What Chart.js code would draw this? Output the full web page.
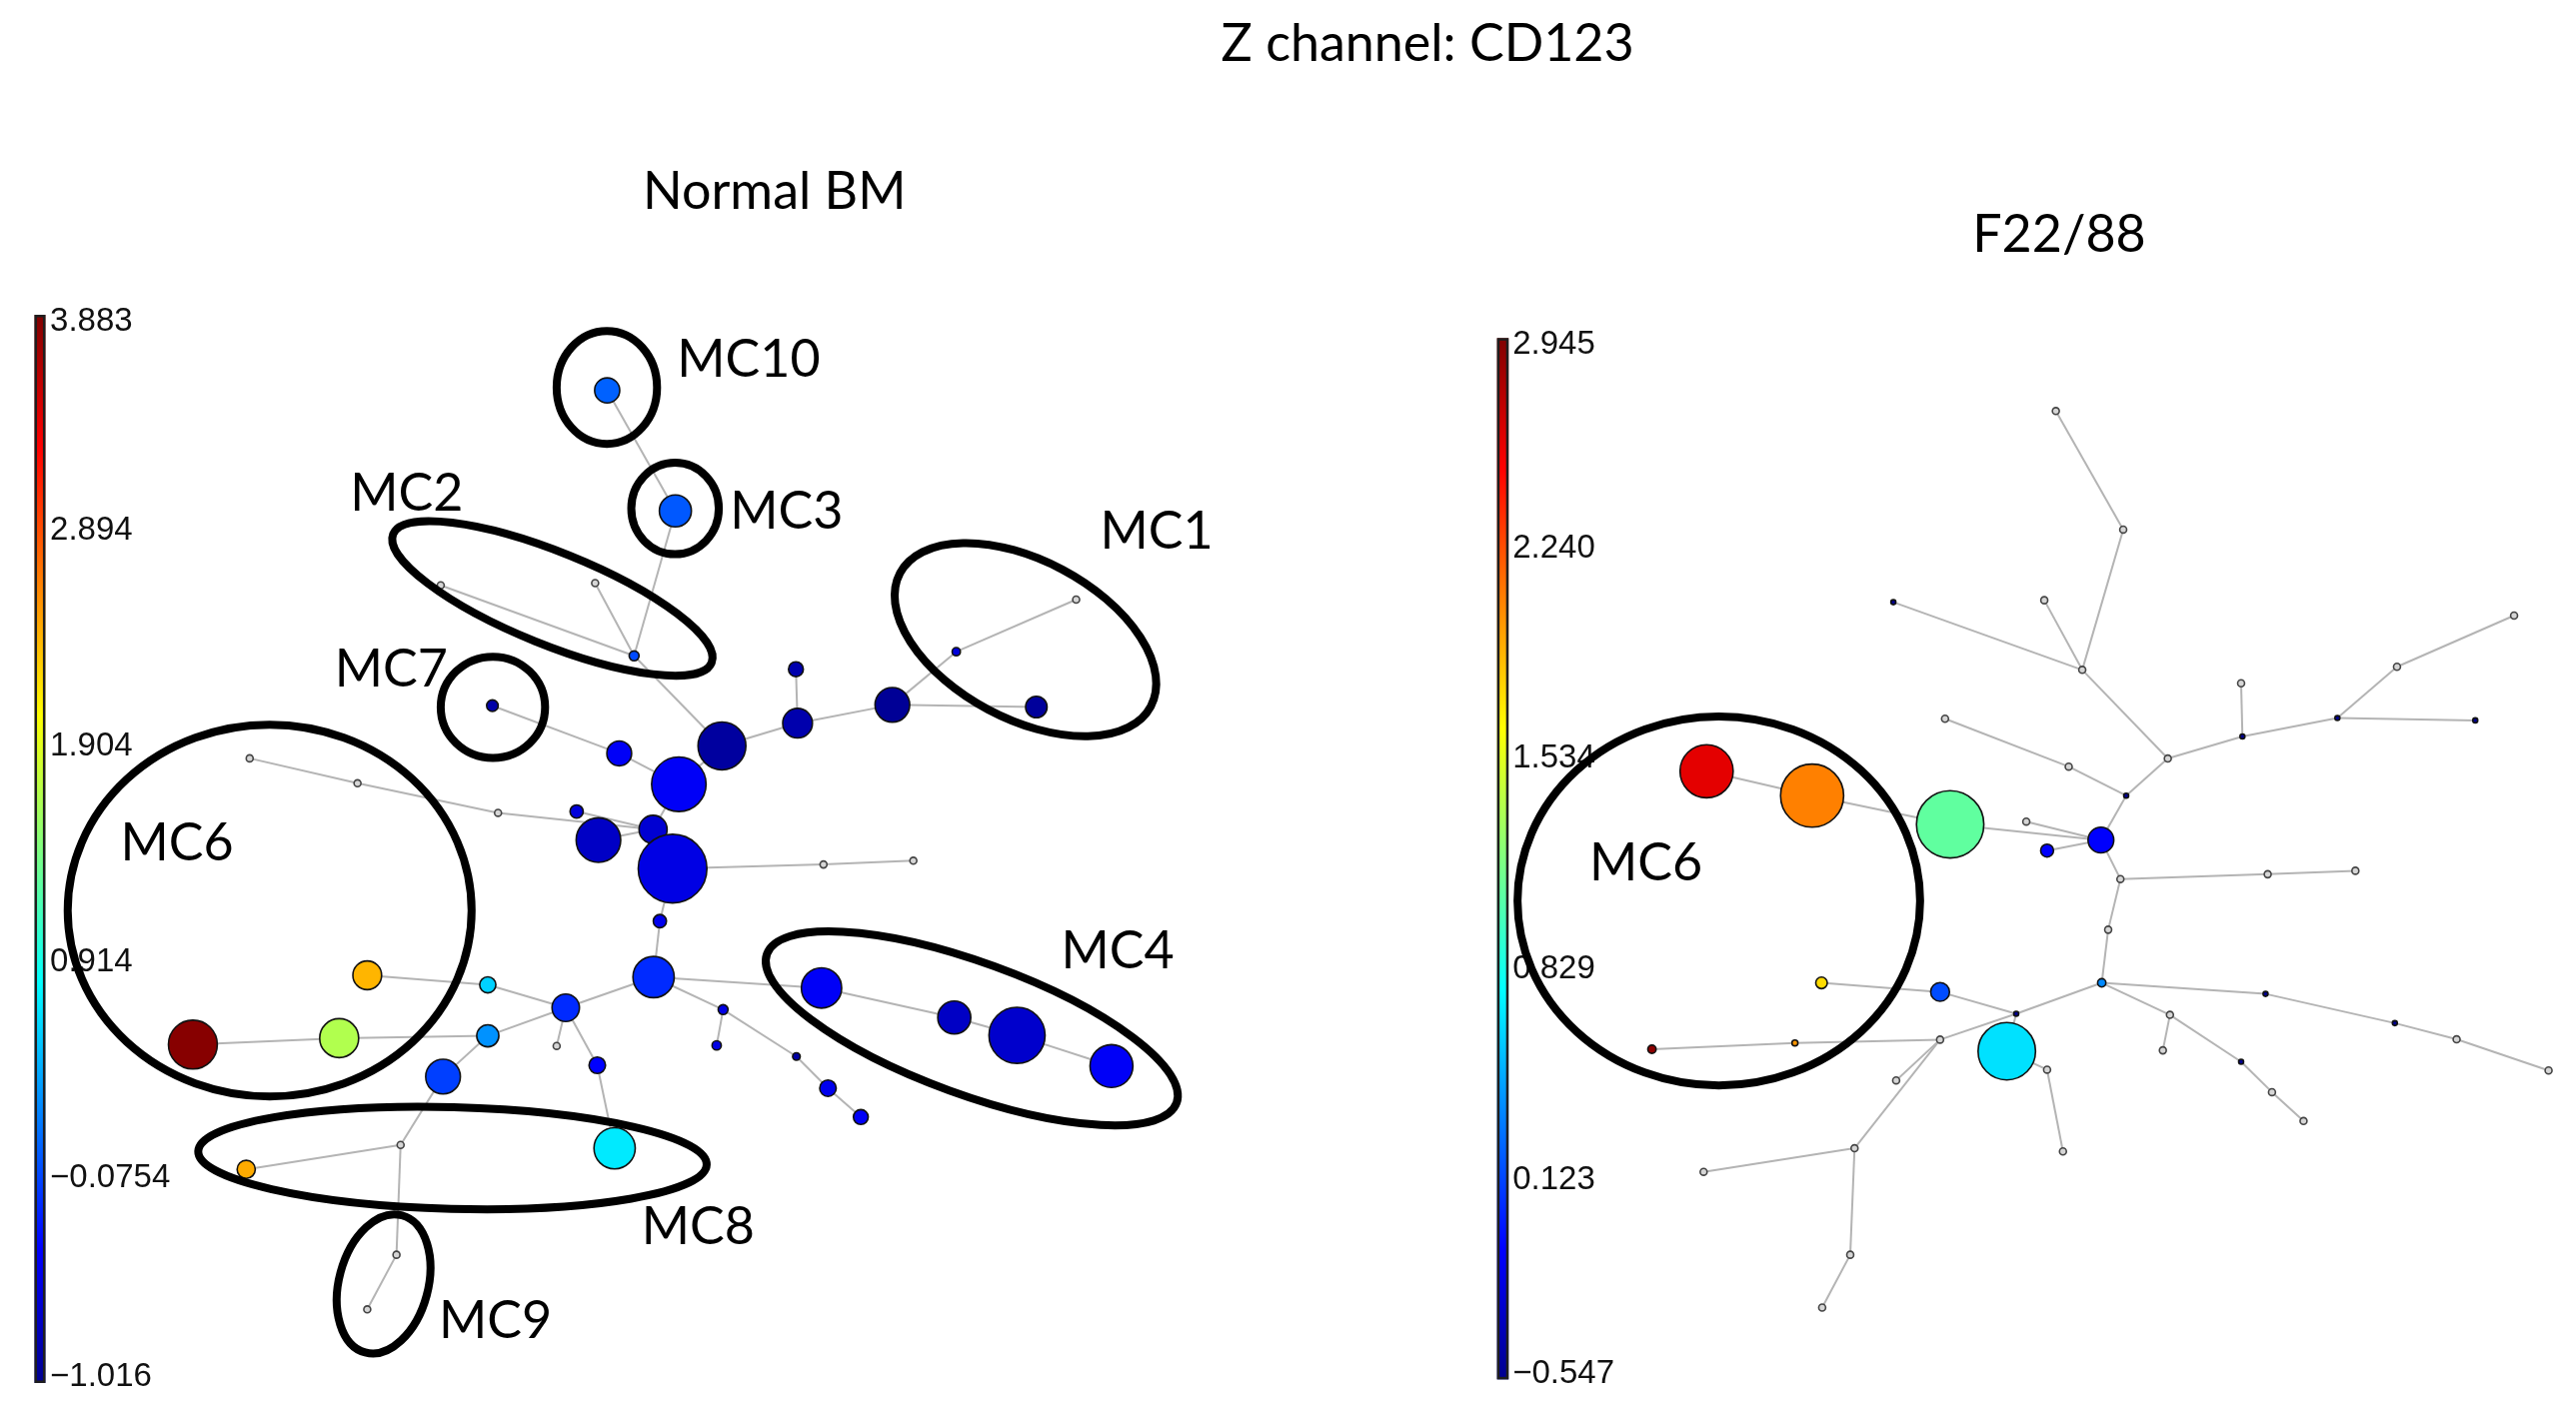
<!DOCTYPE html>
<html>
<head>
<meta charset="utf-8">
<script src="https://cdn.jsdelivr.net/npm/chart.js@4.4.1/dist/chart.umd.min.js"></script>
<style>
  html, body { margin: 0; padding: 0; background: #fff; }
  #wrap { position: relative; width: 2577px; height: 1419px; }
</style>
</head>
<body>
<div id="wrap"><canvas id="tree"></canvas></div>
<script>
// layout units (tree coordinates), whole figure spans 1560 x 859
const W = 1560, H = 859;

// ---- Normal BM tree ----
const leftX = [367.7, 409.0, 266.9, 360.4, 384.0, 298.2, 482.0, 483.0, 540.4, 437.2,
               375.0, 411.1, 151.2, 216.5, 301.6, 349.2, 362.4, 395.5, 407.3, 498.7,
               399.6, 553.1, 579.1, 651.7, 627.6, 222.4, 295.4, 342.6, 395.8, 116.8,
               205.4, 295.4, 268.3, 337.1, 361.7, 437.9, 434.0, 482.3, 501.4, 521.3,
               497.5, 372.2, 242.6, 149.1, 240.1, 222.4, 577.9, 615.9, 673.1];
const leftY = [236.5, 309.5, 354.6, 353.2, 397.3, 427.5, 405.4, 438.1, 427.0, 451.9,
               456.4, 475.1, 459.4, 474.5, 492.4, 491.6, 508.9, 502.4, 526.2, 523.7,
               558.0, 521.4, 394.8, 363.2, 428.3, 590.8, 596.6, 610.5, 591.9, 632.8,
               628.9, 627.5, 652.2, 633.6, 645.3, 611.6, 633.3, 640.0, 659.2, 676.7,
               598.5, 695.6, 693.6, 708.4, 760.1, 793.2, 616.4, 627.2, 645.8];
// node size (0 = empty node)
const leftSize = [7.6, 9.7, 0, 0, 3.0, 3.5, 4.5, 9.0, 10.5, 14.5,
                  7.5, 16.5, 0, 0, 0, 4.0, 13.5, 8.5, 20.8, 0,
                  4.0, 0, 2.5, 0, 6.5, 8.7, 4.9, 8.3, 12.5, 14.8,
                  11.8, 6.7, 10.5, 0, 5.0, 3.0, 2.8, 2.3, 5.0, 4.5,
                  12.2, 12.5, 0, 5.5, 0, 0, 10.0, 17.0, 13.0];
// CD123 value (null = no cells)
const leftVal = [0.06, 0.02, null, null, -0.05, -0.88, -0.85, -0.85, -0.98, -0.93,
                 -0.45, -0.45, null, null, null, -0.6, -0.72, -0.65, -0.55, null,
                 -0.5, null, -0.6, null, -0.95, 2.4, 0.6, -0.2, -0.2, 3.85,
                 1.67, 0.3, -0.1, null, -0.4, -0.55, -0.55, -0.9, -0.5, -0.45,
                 -0.45, 0.72, null, 2.45, null, null, -0.72, -0.68, -0.45];
const leftEdges = [[0,1],[1,4],[2,4],[3,4],[4,9],[5,10],[10,11],[9,11],[9,7],[7,6],
                   [7,8],[8,22],[22,23],[8,24],[12,13],[13,14],[14,17],[15,17],[16,17],[11,17],
                   [17,18],[18,19],[19,21],[18,20],[20,28],[28,27],[28,40],[40,46],[46,47],[47,48],
                   [28,35],[35,36],[35,37],[37,38],[38,39],[27,26],[26,25],[27,31],[31,30],[30,29],
                   [27,33],[27,34],[34,41],[31,32],[32,42],[42,43],[42,44],[44,45]];
const leftRange = [-1.016, 3.883];
const leftTickVals = [3.883, 2.8934, 1.9038, 0.9142, -0.0754, -1.016];
const leftTickLabels = ["3.883", "2.894", "1.904", "0.914", "\u22120.0754", "\u22121.016"];

// ---- F22/88 tree ----
const rightX = [1033.5, 1097.4, 1181.0, 1272.3, 1239.7, 1227.1, 1284.1, 1373.3, 1426.4, 1287.6,
                1252.8, 1177.9, 1312.8, 1261.0, 1146.6, 1238.0, 1285.8, 1245.0, 1358.0, 1357.2,
                1415.5, 1499.0, 1451.6, 1522.5, 1276.7, 1272.8, 1103.1, 1174.9, 1221.0, 1215.3,
                1174.9, 1087.0, 1000.4, 1148.3, 1123.1, 1031.7, 1120.5, 1103.5, 1239.7, 1249.3,
                1372.0, 1450.3, 1487.7, 1543.4, 1314.1, 1309.8, 1357.2, 1375.9, 1395.0];
const rightY = [467.2, 482.0, 499.4, 508.9, 515.3, 497.7, 532.5, 529.6, 527.5, 482.0,
                464.4, 435.4, 459.5, 405.8, 364.8, 363.6, 320.8, 249.0, 446.1, 413.9,
                435.0, 436.4, 403.9, 372.9, 563.2, 595.4, 595.4, 600.9, 614.1, 636.8,
                629.8, 631.8, 635.6, 654.5, 695.6, 709.9, 760.1, 792.1, 648.0, 697.5,
                602.1, 619.8, 629.6, 648.5, 614.8, 636.3, 643.2, 661.6, 679.1];
const rightSize = [16.1, 19.1, 20.4, 7.8, 3.9, 0, 0, 0, 0, 1.5,
                   0, 0, 0, 0, 1.5, 0, 0, 0, 1.5, 0,
                   1.5, 1.5, 0, 0, 0, 2.5, 3.5, 5.7, 1.5, 17.4,
                   0, 1.8, 2.5, 0, 0, 0, 0, 0, 0, 0,
                   1.5, 1.5, 0, 0, 0, 0, 1.5, 0, 0];
const rightVal = [2.6, 2.07, 1.09, -0.12, -0.12, null, null, null, null, -0.54,
                  null, null, null, null, -0.54, null, null, null, -0.54, null,
                  -0.54, -0.54, null, null, null, 0.36, 1.76, 0.15, -0.54, 0.66,
                  null, 2.0, 2.9, null, null, null, null, null, null, null,
                  -0.54, -0.54, null, null, null, null, -0.54, null, null];
const rightEdges = [[0,1],[1,2],[2,3],[5,3],[4,3],[3,9],[9,10],[10,11],[9,12],[12,13],
                    [13,14],[13,15],[13,16],[16,17],[12,18],[18,19],[18,20],[20,21],[20,22],[22,23],
                    [3,6],[6,7],[7,8],[6,24],[24,25],[25,28],[28,27],[27,26],[28,30],[30,31],
                    [31,32],[28,29],[30,33],[30,34],[34,35],[34,36],[36,37],[29,38],[38,39],[25,40],
                    [40,41],[41,42],[42,43],[25,44],[44,45],[44,46],[46,47],[47,48]];
const rightRange = [-0.547, 2.945];
const rightTickVals = [2.945, 2.240, 1.534, 0.829, 0.123, -0.547];
const rightTickLabels = ["2.945", "2.240", "1.534", "0.829", "0.123", "\u22120.547"];

// meta-cluster rings and labels
const mcNames = ["MC10", "MC3", "MC2", "MC7", "MC6", "MC1", "MC4", "MC8", "MC9", "MC6"];
const ringCx  = [367.5, 408.8, 334.5, 298.5, 163.3, 621.0, 588.5, 274.0, 232.3, 1040.9];
const ringCy  = [234.7, 308.0, 362.5, 428.5, 551.6, 387.5, 623.0, 701.5, 777.8, 545.8];
const ringRx  = [30.4, 26.5, 104, 31.6, 122.3, 86, 132, 154, 27, 121.9];
const ringRy  = [34.2, 27.7, 28, 30.7, 112.6, 48, 40, 30.8, 43, 111.8];
const ringRot = [0, 0, 22, 0, 0, 28, 20, 1.5, 15, 0];
const nameX   = [410, 442, 212, 202.6, 73, 666.2, 642.6, 388.5, 265.8, 962.5];
const nameY   = [218.1, 310, 299.2, 405.9, 511.3, 322.4, 576.6, 743.4, 800.4, 523.2];

// jet colour map
const jetStops = [[0, [0, 0, 143]], [0.125, [0, 0, 255]], [0.375, [0, 255, 255]],
                  [0.625, [255, 255, 0]], [0.875, [255, 0, 0]], [1, [128, 0, 0]]];
function jet(t) {
  t = Math.max(0, Math.min(1, t));
  for (let i = 1; i < jetStops.length; i++) {
    const [t1, c1] = jetStops[i];
    const [t0, c0] = jetStops[i - 1];
    if (t <= t1) {
      const f = (t - t0) / (t1 - t0);
      const c = c0.map((v, k) => Math.round(v + (c1[k] - v) * f));
      return `rgb(${c[0]},${c[1]},${c[2]})`;
    }
  }
  return "rgb(128,0,0)";
}

function nodePoints(xs, ys, sizes, vals) {
  return xs.map((x, i) => ({ x, y: ys[i], r: sizes[i], v: vals[i] }));
}

function nodeDataset(points, range) {
  return {
    data: points,
    order: 0,
    pointRadius: (c) => {
      const k = c.chart.chartArea ? c.chart.chartArea.width / W : 1.652;
      const p = c.raw;
      return (p.v === null ? 2.1 : p.r) * k;
    },
    pointBackgroundColor: (c) => {
      const p = c.raw;
      if (p.v === null) return "#d6d6d6";
      return jet((p.v - range[0]) / (range[1] - range[0]));
    },
    pointBorderColor: (c) => (c.raw.v === null ? "#444" : "#111"),
    pointBorderWidth: 1.6,
    pointHoverRadius: (c) => (c.raw.v === null ? 2.1 : c.raw.r) * 1.652,
  };
}

function edgeDatasets(points, edges) {
  return edges.map(([a, b]) => ({
    data: [points[a], points[b]],
    showLine: true,
    pointRadius: 0,
    pointHoverRadius: 0,
    borderColor: "#b4b4b4",
    borderWidth: 2,
    order: 2,
  }));
}

const leftPts = nodePoints(leftX, leftY, leftSize, leftVal);
const rightPts = nodePoints(rightX, rightY, rightSize, rightVal);

// titles, colour bars, rings
const overlay = {
  id: "overlay",
  beforeDatasetsDraw(chart) {
    const { ctx, scales: { x, y } } = chart;
    ctx.save();
    ctx.fillStyle = "#000";
    ctx.textAlign = "center";
    ctx.textBaseline = "middle";
    ctx.font = "52px Lato, 'Open Sans', sans-serif";
    ctx.fillText("Z channel: CD123", x.getPixelForValue(864.5), y.getPixelForValue(27));
    ctx.fillText("Normal BM", x.getPixelForValue(469), y.getPixelForValue(116.5));
    ctx.fillText("F22/88", x.getPixelForValue(1247), y.getPixelForValue(142.5));

    drawBar(chart, 20.9, 27.5, 190.7, 837.8, leftRange, leftTickVals, leftTickLabels, 30.3);
    drawBar(chart, 906.6, 913.6, 204.8, 835.6, rightRange, rightTickVals, rightTickLabels, 916);
    ctx.restore();
  },
  afterDatasetsDraw(chart) {
    const { ctx, scales: { x, y } } = chart;
    const k = chart.chartArea.width / W;
    ctx.save();
    ctx.strokeStyle = "#000";
    ctx.lineWidth = 8;
    mcNames.forEach((name, i) => {
      ctx.beginPath();
      ctx.ellipse(x.getPixelForValue(ringCx[i]), y.getPixelForValue(ringCy[i]),
        ringRx[i] * k, ringRy[i] * k, ringRot[i] * Math.PI / 180, 0, Math.PI * 2);
      ctx.stroke();
    });
    ctx.fillStyle = "#000";
    ctx.textAlign = "left";
    ctx.textBaseline = "middle";
    ctx.font = "52px Lato, 'Open Sans', sans-serif";
    mcNames.forEach((name, i) => {
      ctx.fillText(name, x.getPixelForValue(nameX[i]), y.getPixelForValue(nameY[i]));
    });
    ctx.restore();
  },
};

function drawBar(chart, x0, x1, y0, y1, range, vals, labels, labelX) {
  const { ctx, scales: { x, y } } = chart;
  const px0 = x.getPixelForValue(x0), px1 = x.getPixelForValue(x1);
  const py0 = y.getPixelForValue(y0), py1 = y.getPixelForValue(y1);
  const grad = ctx.createLinearGradient(0, py0, 0, py1);
  jetStops.forEach(([t]) => grad.addColorStop(1 - t, jet(t)));
  ctx.fillStyle = grad;
  ctx.fillRect(px0, py0, px1 - px0, py1 - py0);
  ctx.strokeStyle = "#1e1e1e";
  ctx.lineWidth = 2.5;
  ctx.strokeRect(px0 + 1.25, py0 + 1.25, px1 - px0 - 2.5, py1 - py0 - 2.5);
  ctx.font = "33px 'Liberation Sans', Arial, sans-serif";
  ctx.textAlign = "left";
  ctx.textBaseline = "middle";
  ctx.fillStyle = "#111";
  vals.forEach((v, i) => {
    let ly = y0 + (range[1] - v) / (range[1] - range[0]) * (y1 - y0);
    ly = Math.max(y0 + 4, Math.min(y1 - 3.5, ly));
    ctx.fillText(labels[i], x.getPixelForValue(labelX), y.getPixelForValue(ly));
  });
}

new Chart(document.getElementById("tree"), {
  type: "scatter",
  data: {
    datasets: [
      nodeDataset(leftPts, leftRange),
      nodeDataset(rightPts, rightRange),
      ...edgeDatasets(leftPts, leftEdges),
      ...edgeDatasets(rightPts, rightEdges),
    ],
  },
  options: {
    responsive: true,
    maintainAspectRatio: false,
    animation: false,
    layout: { padding: 0, autoPadding: false },
    scales: {
      x: { type: "linear", min: 0, max: W, display: false },
      y: { type: "linear", min: 0, max: H, reverse: true, display: false },
    },
    plugins: { legend: { display: false }, tooltip: { enabled: false } },
  },
  plugins: [overlay],
});
</script>
</body>
</html>
